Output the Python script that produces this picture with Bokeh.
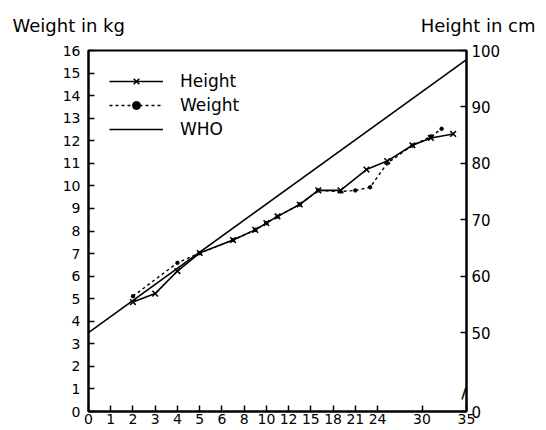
import numpy as np
from bokeh.plotting import figure
from bokeh.models import (Range1d, LinearAxis, FixedTicker, Label, Legend, LegendItem, Title)
from bokeh.embed import file_html
from bokeh.resources import INLINE

# ---- data (age in months) ----
age_ticks = [0, 1, 2, 3, 4, 5, 6, 8, 10, 12, 15, 18, 21, 24, 30, 35]
age_axis_pos = [0, 1, 2, 3, 4, 5, 6, 7, 8, 9, 10, 11, 12, 13, 15, 17]

height_age = [2, 3, 4, 5, 7, 9, 10, 11, 13.5, 16, 19, 22.5, 25.3, 28.7, 31, 33.5]
height_cm = [55.4, 56.9, 60.9, 64.1, 66.4, 68.2, 69.4, 70.6, 72.7, 75.2, 75.2, 78.9, 80.4, 83.2, 84.5, 85.2]

weight_age = [2, 4, 5, 7, 9, 10, 11, 13.5, 16, 19, 21, 23, 25.3, 28.7, 31, 32.2]
weight_kg = [5.11, 6.59, 7.02, 7.6, 8.05, 8.35, 8.64, 9.18, 9.8, 9.75, 9.8, 9.94, 11.0, 11.79, 12.19, 12.53]

who_age = [0, 35]
who_kg = [3.5, 15.6]

weight_ticks = list(range(0, 17))
height_ticks = [50, 60, 70, 80, 90, 100]
height_range = (36, 100)   # 50 cm aligned with 3.5 kg, 4 cm per kg


def to_pos(a):
    return list(np.interp(a, age_ticks, age_axis_pos))


FONT = "DejaVu Sans"

p = figure(width=546, height=430, output_backend="svg", toolbar_location=None,
           x_range=Range1d(0, 17), y_range=Range1d(0, 16),
           min_border_left=88, min_border_right=80, min_border_top=50, min_border_bottom=19)
p.extra_y_ranges = {"height": Range1d(*height_range)}
p.xgrid.visible = False
p.ygrid.visible = False
p.outline_line_color = "black"
p.outline_line_width = 2
p.background_fill_color = "white"
p.border_fill_color = "white"

# axes
xa = p.xaxis[0]
xa.ticker = FixedTicker(ticks=age_axis_pos)
xa.major_label_overrides = {pos: str(a) for pos, a in zip(age_axis_pos, age_ticks)}
ya = p.yaxis[0]
ya.ticker = FixedTicker(ticks=weight_ticks)

ra = LinearAxis(y_range_name="height",
                ticker=FixedTicker(ticks=[height_range[0]] + height_ticks),
                major_label_overrides={height_range[0]: "0"})
p.add_layout(ra, "right")

for ax, fs, st in ((xa, "14px", 2), (ya, "14px", 8), (ra, "15px", 5)):
    ax.axis_line_width = 2
    ax.axis_line_color = "black"
    ax.major_tick_in = 6
    ax.major_tick_out = 0
    ax.major_tick_line_width = 1.5
    ax.minor_tick_line_color = None
    ax.major_label_text_font = FONT
    ax.major_label_text_font_size = fs
    ax.major_label_text_color = "black"
    ax.major_label_standoff = st

# series
who_r = p.line(to_pos(who_age), who_kg, line_color="black", line_width=1.6)

h_line = p.line(to_pos(height_age), height_cm, y_range_name="height",
                line_color="black", line_width=1.6)
h_pts = p.scatter(to_pos(height_age), height_cm, y_range_name="height",
                  marker="x", size=8, line_color="black", line_width=1.5)

w_line = p.line(to_pos(weight_age), weight_kg, line_color="black",
                line_width=1.4, line_dash="3 3")
w_pts = p.scatter(to_pos(weight_age), weight_kg, marker="circle", size=3.5,
                  fill_color="black", line_color="black")

legend = Legend(items=[
    LegendItem(label="Height", renderers=[h_line, h_pts]),
    LegendItem(label="Weight", renderers=[w_line, w_pts]),
    LegendItem(label="WHO", renderers=[who_r]),
], location="top_left")
legend.margin = 21
legend.padding = 7
legend.glyph_width = 54
legend.glyph_height = 20
legend.label_height = 20
legend.spacing = 4
legend.label_standoff = 17
legend.label_text_font = FONT
legend.label_text_font_size = "17px"
legend.label_text_color = "black"
legend.border_line_color = None
legend.background_fill_alpha = 0
p.add_layout(legend)

# axis titles (one row above the frame)
t_right = Title(text="Height in cm", align="right", offset=-69, standoff=27,
                vertical_align="middle",
                text_font=FONT, text_font_size="18px", text_font_style="normal",
                text_color="black")
p.add_layout(t_right, "above")
p.title.text = "Weight in kg"
p.title.align = "left"
p.title.offset = -76
p.title.vertical_align = "bottom"
p.title.text_font = FONT
p.title.text_font_size = "18px"
p.title.text_font_style = "normal"
p.title.text_color = "black"
try:
    p.title.standoff = -71
except Exception:
    p.title.standoff = 0

# axis break mark on height axis
p.add_layout(Label(x=17, y=39.2, y_range_name="height", text="//", text_font=FONT,
                   text_font_size="14px", text_font_style="bold", x_offset=5,
                   text_baseline="middle", text_align="right", text_color="black"))

open("out.html", "w").write(file_html(p, INLINE))
